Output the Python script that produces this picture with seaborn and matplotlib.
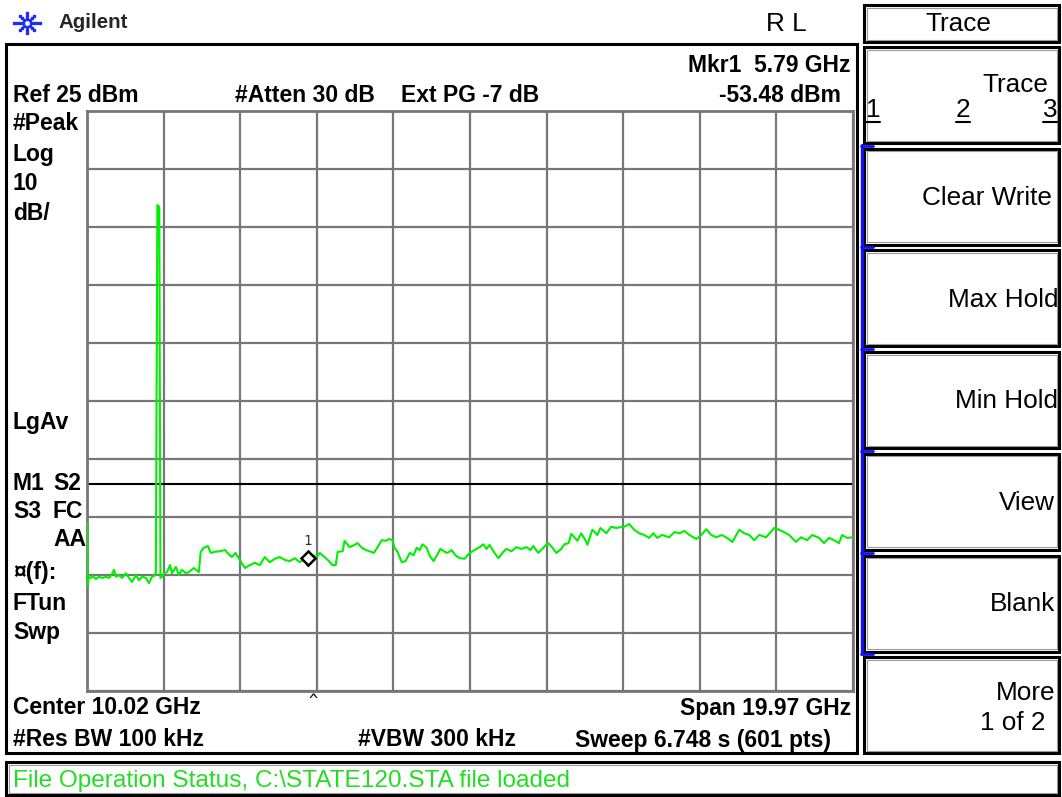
import numpy as np
import pandas as pd
import matplotlib
matplotlib.use("Agg")
import matplotlib.pyplot as plt
import matplotlib.transforms as mtransforms
from matplotlib.patches import Rectangle
from matplotlib.lines import Line2D
import seaborn as sns

freq_ghz = [0.04, 0.05, 0.09, 0.14, 0.19, 0.27, 0.35, 0.43, 0.53, 0.61, 0.69, 0.74, 0.79, 0.87, 0.95,
            1.05, 1.13, 1.21, 1.31, 1.39, 1.47, 1.57, 1.65, 1.73, 1.83, 1.87, 1.92, 1.95, 1.99,
            2.04, 2.12, 2.20, 2.25, 2.35, 2.43, 2.51, 2.61, 2.69, 2.82, 2.95, 3.00, 3.08, 3.19,
            3.26, 3.37, 3.50, 3.63, 3.73, 3.81, 3.91, 4.02, 4.15, 4.28, 4.41, 4.54, 4.67, 4.80,
            4.93, 5.06, 5.19, 5.32, 5.45, 5.58, 5.71, 5.79, 5.92, 6.02, 6.10, 6.23, 6.34, 6.44,
            6.52, 6.57, 6.70, 6.75, 6.88, 7.01, 7.09, 7.20, 7.30, 7.40, 7.51, 7.61, 7.72, 7.82,
            7.92, 8.00, 8.05, 8.13, 8.24, 8.34, 8.45, 8.55, 8.63, 8.71, 8.78, 8.89, 8.97, 9.07,
            9.15, 9.25, 9.36, 9.43, 9.54, 9.64, 9.75, 9.88, 10.01, 10.14, 10.27, 10.37, 10.45,
            10.53, 10.66, 10.76, 10.89, 10.97, 11.10, 11.23, 11.36, 11.49, 11.60, 11.67, 11.80,
            11.93, 12.06, 12.17, 12.27, 12.40, 12.48, 12.59, 12.66, 12.74, 12.82, 12.92, 13.03,
            13.08, 13.21, 13.34, 13.42, 13.57, 13.70, 13.84, 13.97, 14.07, 14.17, 14.30, 14.43,
            14.56, 14.69, 14.80, 14.90, 15.03, 15.21, 15.35, 15.48, 15.61, 15.74, 15.92, 16.05,
            16.18, 16.31, 16.44, 16.59, 16.72, 16.86, 17.04, 17.17, 17.30, 17.43, 17.56, 17.74,
            17.95, 18.08, 18.21, 18.34, 18.52, 18.65, 18.81, 18.94, 19.12, 19.25, 19.38, 19.51,
            19.64, 19.72, 19.85, 20.00]
level_dbm = [-46.0, -56.9, -55.3, -55.5, -55.2, -55.7, -55.3, -55.5, -55.3, -55.5, -54.8, -54.1, -55.3, -55.0, -55.5,
             -54.7, -55.5, -56.2, -55.0, -55.9, -55.3, -55.5, -56.4, -55.3, -55.0, 8.8, 8.4, -55.5, -55.3,
             -54.7, -54.5, -53.3, -54.7, -53.6, -55.0, -54.1, -54.7, -54.5, -53.8, -54.5, -51.0, -50.3, -50.0,
             -51.2, -51.0, -50.9, -50.7, -51.4, -51.9, -51.2, -52.4, -53.8, -53.3, -52.9, -53.3, -51.9, -52.8,
             -52.2, -51.9, -52.4, -52.6, -52.1, -52.8, -52.2, -53.48, -51.6, -51.9, -51.2, -51.9, -52.6, -53.3,
             -53.3, -51.0, -50.9, -49.1, -50.2, -49.8, -49.5, -50.3, -50.7, -50.9, -51.2, -50.2, -49.0, -49.1,
             -48.8, -49.0, -50.3, -51.0, -52.8, -52.6, -51.2, -51.6, -50.3, -50.7, -49.7, -50.3, -51.7, -52.6,
             -51.7, -50.5, -51.0, -51.2, -50.7, -51.6, -52.1, -52.2, -51.2, -50.7, -50.2, -49.7, -50.5,
             -49.8, -51.2, -52.1, -51.0, -50.5, -50.9, -50.2, -50.5, -50.2, -50.7, -50.0, -51.2,
             -50.3, -49.5, -50.3, -51.2, -50.5, -49.7, -49.5, -47.9, -48.5, -49.1, -47.8, -49.0,
             -49.8, -47.2, -48.1, -46.9, -47.8, -46.7, -46.9, -46.7, -46.6, -46.2, -47.2, -47.8,
             -48.1, -48.6, -47.8, -48.6, -48.1, -48.5, -47.6, -47.8, -47.4, -48.1, -48.8, -48.1,
             -47.1, -48.1, -48.5, -48.1, -48.6, -49.3, -47.2, -47.8, -48.1, -49.0, -48.1, -48.5,
             -46.9, -47.2, -47.6, -48.1, -49.3, -48.5, -49.0, -48.1, -48.6, -49.5, -48.6, -49.0,
             -49.5, -48.1, -48.6, -48.5]

marker_freq_ghz = 5.79
marker_level_dbm = -53.48
ref_level_dbm = 25
db_per_div = 10
n_div = 10
center_ghz = 10.02
span_ghz = 19.97
display_line_dbm = -39.3

left_labels = ["#Peak", "Log", "10", "dB/", "LgAv", "¤(f):", "FTun", "Swp"]
softkeys = ["Trace", "Clear Write", "Max Hold", "Min Hold", "View", "Blank", "More"]

# ---------------- figure ----------------
sns.set_style("white")
plt.rcParams['font.family'] = ['Liberation Sans', 'DejaVu Sans']

W, H = 1062, 797
fig = plt.figure(figsize=(W / 100, H / 100), dpi=100)
fig.patch.set_facecolor("white")


def fx(x):
    return x / W


def fy(y):
    return 1 - y / H


GL, GR, GT, GB = 87, 853, 111, 691
ax = fig.add_axes([fx(GL), fy(GB), (GR - GL) / W, (GB - GT) / H])

start = center_ghz - span_ghz / 2
stop = center_ghz + span_ghz / 2
bottom = ref_level_dbm - n_div * db_per_div

df = pd.DataFrame({"freq": freq_ghz, "level": level_dbm})
sns.lineplot(data=df, x="freq", y="level", ax=ax, color="#00f000", lw=1.5,
             estimator=None, sort=False, zorder=3)

ax.set_xlim(start, stop)
ax.set_ylim(bottom, ref_level_dbm)
ax.set_xticks(np.linspace(start, stop, n_div + 1))
ax.set_yticks(np.linspace(bottom, ref_level_dbm, n_div + 1))
ax.grid(True, color="#777777", lw=1.6)
ax.set_axisbelow(True)
ax.tick_params(length=0, labelbottom=False, labelleft=False)
ax.set_xlabel("")
ax.set_ylabel("")
for s in ax.spines.values():
    s.set_color("#777777")
    s.set_linewidth(2)
ax.axhline(display_line_dbm, color="black", lw=1.5, zorder=2)

# marker (diamond sitting on the marker point)
trans = mtransforms.offset_copy(ax.transData, fig=fig, x=0, y=8, units="dots")
ax.plot([marker_freq_ghz], [marker_level_dbm], marker="D", ms=6.8, mfc="white",
        mec="black", mew=1.8, transform=trans, zorder=5, ls="none")
ax.annotate("1", xy=(marker_freq_ghz, marker_level_dbm), xytext=(0, 25),
            textcoords="offset pixels", ha="center", va="center", fontsize=10,
            family="DejaVu Sans Mono", color="#333333", zorder=6)
ax.annotate("^", xy=(marker_freq_ghz, 0), xycoords=("data", "axes fraction"),
            xytext=(5, -9), textcoords="offset pixels", ha="center", va="center",
            fontsize=11, family="DejaVu Sans Mono", color="black", annotation_clip=False)

# ---------------- frames ----------------
def box(x0, y0, x1, y1, lw=2.2, inner=True):
    fig.add_artist(Rectangle((fx(x0), fy(y1)), (x1 - x0) / W, (y1 - y0) / H,
                             transform=fig.transFigure, fill=False, ec="black", lw=lw))
    if inner:
        fig.add_artist(Rectangle((fx(x0 + 2.5), fy(y1 - 2.5)), (x1 - x0 - 5) / W, (y1 - y0 - 5) / H,
                                 transform=fig.transFigure, fill=False, ec="#9a9a9a", lw=0.8))


box(6, 44, 857, 753, lw=2.2, inner=False)
box(864, 5, 1059, 42)
box(6, 762, 1059, 795)
for i in range(7):
    top = 47 + i * 101.7
    box(864, top, 1059, top + 96)

# blue bracket
blue = "#1010ff"
fig.add_artist(Line2D([fx(862), fx(862)], [fy(145), fy(654)], color=blue, lw=2.4,
                      transform=fig.transFigure))
for yb in [145.5, 247, 349, 451, 553, 654]:
    fig.add_artist(Line2D([fx(861), fx(873)], [fy(yb), fy(yb)], color=blue, lw=2.0,
                          transform=fig.transFigure))

# Agilent logo (dotted starburst made of small dots)
cx, cy = 27, 23
dots_x, dots_y = [], []
for ang in range(0, 360, 45):
    a = np.deg2rad(ang)
    radii = [4, 7, 10, 13] if ang % 180 == 0 else ([4, 7, 10] if ang % 90 == 0 else [4, 7, 9.5])
    for r in radii:
        dots_x.append(fx(cx + r * np.cos(a)))
        dots_y.append(fy(cy - r * np.sin(a)))
fig.add_artist(Line2D(dots_x, dots_y, ls="none", marker="s", ms=1.7, mfc="#1a2bff",
                      mec="#1a2bff", transform=fig.transFigure))

# ---------------- texts ----------------
BOLD = dict(fontsize=16.5, fontweight="bold", color="black", va="center")
REG = dict(fontsize=18.8, color="black", va="center")


def t(x, y, s, **kw):
    fig.text(fx(x), fy(y), s, **kw)


t(58, 22, "Agilent", fontsize=14.8, fontweight="bold", va="center")
t(786, 24, "R L", ha="center", **REG)
t(958, 24, "Trace", ha="center", **REG)

t(851, 65, "Mkr1  5.79 GHz", ha="right", **BOLD)
t(13, 96, "Ref 25 dBm", ha="left", **BOLD)
t(235, 96, "#Atten 30 dB", ha="left", **BOLD)
t(401, 96, "Ext PG -7 dB", ha="left", **BOLD)
t(841, 96, "-53.48 dBm", ha="right", **BOLD)

for s, y in zip(left_labels, [124, 154, 184, 213, 423, 572, 603, 632]):
    t(13, y, s, ha="left", **BOLD)
t(13, 483, "M1", ha="left", **BOLD)
t(53, 483, "S2", ha="left", **BOLD)
t(13, 511, "S3", ha="left", **BOLD)
t(53, 511, "FC", ha="left", **BOLD)
t(53, 540, "AA", ha="left", **BOLD)

t(13, 708, "Center 10.02 GHz", ha="left", **BOLD)
t(851, 708, "Span 19.97 GHz", ha="right", **BOLD)
t(13, 740, "#Res BW 100 kHz", ha="left", **BOLD)
t(358, 740, "#VBW 300 kHz", ha="left", **BOLD)
t(831, 740, "Sweep 6.748 s (601 pts)", ha="right", **BOLD)

t(13, 781, "File Operation Status, C:\\STATE120.STA file loaded", ha="left",
  fontsize=17.6, color="#22dd22", va="center")

# softkeys
key_y = [85, 198, 300, 401, 503, 604, 693]
key_x = [1048, 1052, 1058, 1058, 1055, 1055, 1055]
for s, x, y in zip(softkeys, key_x, key_y):
    t(x, y, s, ha="right", **REG)
t(1045, 723, "1 of 2", ha="right", **REG)
for s, x in zip(["1", "2", "3"], [873, 963, 1050]):
    t(x, 110, s, ha="center", **REG)
    fig.add_artist(Line2D([fx(x - 7), fx(x + 7)], [fy(122), fy(122)], color="black", lw=1.5,
                          transform=fig.transFigure))

fig.savefig("out.png", dpi=100, facecolor="white")
